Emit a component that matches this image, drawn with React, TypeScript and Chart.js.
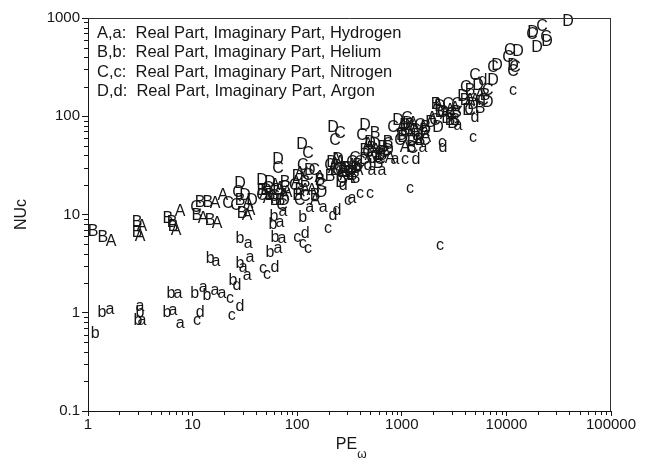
import React, { useEffect, useRef } from "react";
import { Chart, registerables } from "chart.js";

Chart.register(...registerables);

// ---- axis ticks ----
const xTickValues = [1, 10, 100, 1000, 10000, 100000];
const xTickLabels = ["1", "10", "100", "1000", "10000", "100000"];
const yTickValues = [0.1, 1, 10, 100, 1000];
const yTickLabels = ["0.1", "1", "10", "100", "1000"];

const xTitle = "PE";
const xTitleSub = "ω";
const yTitle = "NUc";

const legendLines = [
  "A,a:  Real Part, Imaginary Part, Hydrogen",
  "B,b:  Real Part, Imaginary Part, Helium",
  "C,c:  Real Part, Imaginary Part, Nitrogen",
  "D,d:  Real Part, Imaginary Part, Argon",
];

// ---- data: A = hydrogen real, a = hydrogen imaginary, etc. ----
const hydrogenRealPE = [1.66, 3.28, 3.14, 7.6, 6.95, 16.4, 19.5, 12.6, 17.1, 34, 35.4, 33.2, 61.3, 74.8, 79.9, 106, 165, 138, 257, 334, 286, 381, 690, 592, 1279, 1595, 1197, 1073, 3228, 2588, 5600, 220, 496, 1428, 2200, 4490, 119, 49,
  52.6, 68.5, 97.4, 148, 235, 320, 278, 475, 771, 566, 1000, 1700, 1336, 1945, 2890, 5010];
const hydrogenRealNu = [5.3, 7.5, 6.0, 10.7, 6.9, 12.9, 15.6, 9.1, 8.1, 12.9, 11, 9.8, 19.8, 15.6, 16.8, 26.2, 23.8, 17.6, 34, 31.6, 25, 28, 45, 37, 85, 77, 64, 48, 121, 103, 164, 29.5, 40, 54, 130, 146, 17.6, 16.4,
  14.6, 18.5, 21.2, 13.9, 36, 23.3, 29.5, 51, 37, 45, 76, 60, 69, 95, 115, 146];

const hydrogenImagPE = [1.62, 3.14, 3.28, 6.5, 7.6, 7.25, 16.7, 12.6, 16.4, 19.1, 30.4, 33.2, 35.4, 34, 73.2, 68.5, 71.6, 65.5, 132, 177, 334, 518, 646, 861, 1595, 3450];
const hydrogenImagNu = [1.07, 1.15, 0.83, 1.05, 0.77, 1.56, 3.3, 1.8, 1.68, 1.56, 2.9, 2.4, 3.6, 5.1, 10.7, 8.3, 5.7, 4.5, 11.8, 11.8, 14.6, 28, 28, 36, 48, 81];

const heliumRealPE = [1.12, 1.39, 2.94, 2.94, 5.8, 6.35, 6.5, 11.8, 14.0, 11.0, 14.7, 28.4, 29.7, 55, 68.5, 119, 148, 230, 306, 357, 518, 646, 554, 1073, 1492, 2318, 2890, 4020, 4490, 275, 444, 1236, 3340, 5600, 101, 61.3,
  46, 76.4, 106, 165, 206, 381, 334, 592, 738, 660, 1197, 1700, 1025, 2123, 3228, 6250];
const heliumRealNu = [6.7, 5.8, 8.3, 6.5, 9.1, 8.3, 7.5, 13.3, 13.3, 9.8, 8.7, 13.9, 10.2, 15.6, 13.9, 21.2, 15.6, 28, 29.5, 23.3, 47, 40, 67, 72, 57, 110, 91, 146, 184, 26.8, 45, 48, 110, 121, 15.6, 13.9,
  17.6, 21.2, 17.6, 22, 24.5, 31.6, 25, 33, 54, 48, 81, 76, 60, 130, 91, 164];

const heliumImagPE = [1.17, 1.36, 3.0, 3.14, 5.69, 6.2, 14.7, 10.5, 13.7, 24.3, 28.4, 28.4, 60, 58.7, 61.3, 55, 113];
const heliumImagNu = [0.61, 1.0, 0.83, 1.0, 1.0, 1.56, 3.55, 1.56, 1.49, 2.1, 3.2, 5.7, 9.5, 7.9, 5.8, 4.1, 9.3];

const nitrogenRealPE = [10.8, 21.8, 26, 27.2, 46, 52.6, 76.4, 65.5, 113, 127, 95, 127, 106, 206, 268, 398, 230, 257, 416, 475, 738, 823, 961, 1336, 2077, 2765, 5010, 5980, 4490, 7450, 10800, 12080, 17600, 21900, 334, 618, 1660, 2990, 171,
  60, 71.6, 119, 146, 293, 357, 245, 518, 676, 1120, 1492, 1266, 2470, 3372, 4100, 6650, 10360, 11560, 23900];
const nitrogenRealNu = [11.8, 12.9, 12.3, 16.8, 15.6, 18.5, 18.9, 29.5, 31.6, 42, 19.8, 25, 13.9, 31.6, 23.3, 34, 57, 67, 64, 43, 51, 76, 57, 72, 91, 130, 262, 146, 115, 316, 471, 316, 671, 809, 34, 36, 57, 103, 19.8,
  15.3, 12.3, 15.3, 28, 26.8, 37, 28, 37, 43, 95, 81, 47, 110, 130, 194, 184, 400, 282, 626];

const nitrogenImagPE = [11.0, 22.8, 23.7, 47, 51.4, 100, 113, 127, 197, 398, 496, 306, 1073, 1197, 2420, 4800, 11560, 2318];
const nitrogenImagNu = [0.83, 1.39, 0.93, 2.8, 2.45, 5.8, 5.1, 4.5, 7.2, 16.4, 16.4, 13.9, 36, 18.5, 54, 60, 184, 4.8];

const argonRealPE = [28.4, 31.7, 37, 46, 55, 65.5, 65.5, 111, 132, 220, 245, 320, 444, 554, 444, 920, 1146, 1428, 2318, 3090, 3850, 5360, 7450, 8140, 11560, 19600, 24400, 38800, 286, 738, 1000, 1900, 4300,
  50.3, 74.8, 101, 171, 215, 262, 366, 496, 618, 1266, 1667, 1073, 2704, 2218, 4800, 6650, 12900, 17960];
const argonRealNu = [20.7, 15.6, 13.9, 22, 21.2, 17.6, 36, 51, 28, 76, 36, 26.8, 81, 51, 36, 91, 85, 64, 124, 85, 157, 207, 233, 331, 331, 494, 569, 910, 29.5, 45, 64, 87, 115,
  17.6, 13.9, 24.5, 16.8, 34, 21.2, 29.5, 54, 40, 57, 72, 81, 95, 76, 130, 138, 450, 710];

const argonImagPE = [11.8, 28.4, 26.6, 61.3, 119, 240, 220, 275, 475, 1366, 2470, 5010, 5980];
const argonImagNu = [1.0, 1.15, 1.88, 2.9, 6.4, 11, 9.8, 19.8, 31.6, 36, 48, 98, 233];

const seriesLetters = ["A", "a", "B", "b", "C", "c", "D", "d"];
const seriesX = [hydrogenRealPE, hydrogenImagPE, heliumRealPE, heliumImagPE, nitrogenRealPE, nitrogenImagPE, argonRealPE, argonImagPE];
const seriesY = [hydrogenRealNu, hydrogenImagNu, heliumRealNu, heliumImagNu, nitrogenRealNu, nitrogenImagNu, argonRealNu, argonImagNu];

const FONT = '"Liberation Sans", Arial, Helvetica, sans-serif';
const INK = "#151515";

const letterPlugin = {
  id: "letterMarkers",
  afterDatasetsDraw(chart: any) {
    const ctx = chart.ctx;
    ctx.save();
    ctx.font = `16px ${FONT}`;
    ctx.fillStyle = INK;
    ctx.textAlign = "center";
    ctx.textBaseline = "middle";
    chart.data.datasets.forEach((ds: any, i: number) => {
      const meta = chart.getDatasetMeta(i);
      meta.data.forEach((el: any) => ctx.fillText(ds.letter, el.x, el.y));
    });
    ctx.restore();
  },
};

const framePlugin = {
  id: "frameAndText",
  afterDraw(chart: any) {
    const ctx = chart.ctx;
    const { left, right, top, bottom } = chart.chartArea;
    const xs = chart.scales.x;
    const ys = chart.scales.y;
    ctx.save();
    ctx.strokeStyle = "#333";
    ctx.lineWidth = 1;
    ctx.beginPath();
    ctx.moveTo(left, top + 0.5);
    ctx.lineTo(right, top + 0.5);
    ctx.moveTo(right - 0.5, top);
    ctx.lineTo(right - 0.5, bottom);
    ctx.stroke();
    // minor ticks
    ctx.strokeStyle = INK;
    ctx.beginPath();
    for (let i = 0; i < xTickValues.length - 1; i++) {
      for (let m = 2; m <= 9; m++) {
        const px = Math.round(xs.getPixelForValue(xTickValues[i] * m)) + 0.5;
        ctx.moveTo(px, bottom);
        ctx.lineTo(px, bottom + 4);
      }
    }
    for (let i = 0; i < yTickValues.length - 1; i++) {
      for (let m = 2; m <= 9; m++) {
        const py = Math.round(ys.getPixelForValue(yTickValues[i] * m)) + 0.5;
        ctx.moveTo(left, py);
        ctx.lineTo(left - 4, py);
      }
    }
    ctx.stroke();
    // legend text
    ctx.fillStyle = INK;
    ctx.font = `16.5px ${FONT}`;
    ctx.textAlign = "left";
    ctx.textBaseline = "middle";
    legendLines.forEach((t, i) => ctx.fillText(t, left + 9, top + 15 + i * 19.5));
    // axis titles
    ctx.font = `16px ${FONT}`;
    ctx.textAlign = "left";
    const cx = (left + right) / 2;
    const w = ctx.measureText(xTitle).width;
    const x0 = cx - w / 2 - 3;
    ctx.fillText(xTitle, x0, 445);
    ctx.font = `12px ${FONT}`;
    ctx.fillText(xTitleSub, x0 + w, 455);
    ctx.save();
    ctx.translate(22, (top + bottom) / 2);
    ctx.rotate(-Math.PI / 2);
    ctx.font = `16px ${FONT}`;
    ctx.textAlign = "center";
    ctx.fillText(yTitle, 0, 0);
    ctx.restore();
    ctx.restore();
  },
};

export default function App() {
  const ref = useRef<HTMLCanvasElement | null>(null);
  useEffect(() => {
    if (!ref.current) return;
    const datasets = seriesLetters.map((letter, i) => ({
      label: letter,
      letter,
      data: seriesX[i].map((x, j) => ({ x, y: seriesY[i][j] })),
      pointRadius: 0,
      pointHoverRadius: 0,
      showLine: false,
    }));
    const chart = new Chart(ref.current, {
      type: "scatter",
      data: { datasets } as any,
      options: {
        responsive: false,
        animation: false,
        events: [],
        layout: { padding: { top: 18, right: 44, left: 0, bottom: 0 } },
        plugins: { legend: { display: false }, tooltip: { enabled: false } },
        scales: {
          x: {
            type: "logarithmic",
            min: 1,
            max: 100000,
            afterBuildTicks: (s: any) => {
              s.ticks = xTickValues.map((v) => ({ value: v }));
            },
            afterFit: (s: any) => {
              s.height = 52;
            },
            ticks: {
              autoSkip: false,
              maxRotation: 0,
              padding: 0,
              color: INK,
              font: { family: FONT, size: 15 },
              callback: (v: any) => {
                const k = xTickValues.indexOf(Number(v));
                return k >= 0 ? xTickLabels[k] : "";
              },
            },
            grid: { display: true, drawOnChartArea: false, drawTicks: true, tickLength: 5, color: INK },
            border: { display: true, color: INK, width: 1 },
          },
          y: {
            type: "logarithmic",
            min: 0.1,
            max: 1000,
            afterBuildTicks: (s: any) => {
              s.ticks = yTickValues.map((v) => ({ value: v }));
            },
            afterFit: (s: any) => {
              s.width = 88;
            },
            ticks: {
              autoSkip: false,
              padding: 2,
              color: INK,
              font: { family: FONT, size: 15 },
              callback: (v: any) => {
                const k = yTickValues.indexOf(Number(v));
                return k >= 0 ? yTickLabels[k] : "";
              },
            },
            grid: { display: true, drawOnChartArea: false, drawTicks: true, tickLength: 6, color: INK },
            border: { display: true, color: INK, width: 1 },
          },
        },
      } as any,
      plugins: [letterPlugin, framePlugin],
    });
    return () => chart.destroy();
  }, []);
  return (
    <div style={{ position: "fixed", left: 0, top: 0, width: 655, height: 463, background: "#fff" }}>
      <canvas ref={ref} width={655} height={463} style={{ width: 655, height: 463 }} />
    </div>
  );
}
